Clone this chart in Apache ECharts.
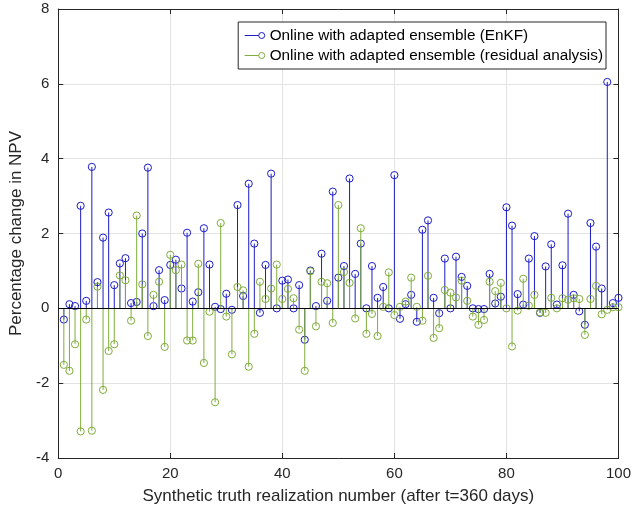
<!DOCTYPE html>
<html>
<head>
<meta charset="utf-8">
<script src="https://cdn.jsdelivr.net/npm/echarts@6/dist/echarts.min.js"></script>
<style>
  html, body { margin: 0; padding: 0; background: #fff; }
  #chart { width: 634px; height: 510px; }
</style>
</head>
<body>
<div id="chart"></div>
<script>
// Realization numbers 1..100
const realizations = [
  1,2,3,4,5,6,7,8,9,10,11,12,13,14,15,16,17,18,19,20,
  21,22,23,24,25,26,27,28,29,30,31,32,33,34,35,36,37,38,39,40,
  41,42,43,44,45,46,47,48,49,50,51,52,53,54,55,56,57,58,59,60,
  61,62,63,64,65,66,67,68,69,70,71,72,73,74,75,76,77,78,79,80,
  81,82,83,84,85,86,87,88,89,90,91,92,93,94,95,96,97,98,99,100
];

// Percentage change in NPV, online with adapted ensemble (EnKF)
const enkf = [
  -0.30, 0.11, 0.06, 2.74, 0.20, 3.78, 0.70, 1.89, 2.56, 0.62,
   1.20, 1.34, 0.14, 0.17, 2.00, 3.76, 0.06, 1.02, 0.22, 1.16,
   1.30, 0.53, 2.02, 0.18, 0.43, 2.14, 1.17, 0.04,-0.02, 0.39,
  -0.04, 2.76, 0.33, 3.33, 1.73,-0.12, 1.16, 3.60, 0.00, 0.74,
   0.77, 0.00, 0.62,-0.84, 1.01, 0.06, 1.46, 0.20, 3.12, 0.82,
   1.13, 3.47, 0.92, 1.73, 0.00, 1.13, 0.28, 0.57, 0.00, 3.56,
  -0.28, 0.11, 0.36,-0.36, 2.10, 2.35, 0.28,-0.13, 1.33, 0.00,
   1.38, 0.84, 0.60, 0.00,-0.02,-0.02, 0.92, 0.13, 0.31, 2.70,
   2.21, 0.38, 0.10, 1.33, 1.93,-0.12, 1.12, 1.71, 0.10, 1.15,
   2.53, 0.36,-0.08,-0.44, 2.28, 1.65, 0.53, 6.05, 0.14, 0.28
];

// Percentage change in NPV, online with adapted ensemble (residual analysis)
const residual = [
  -1.51,-1.67,-0.96,-3.29,-0.30,-3.27, 0.58,-2.18,-1.14,-0.96,
   0.88, 0.75,-0.33, 2.48, 0.64,-0.74, 0.36, 0.71,-1.03, 1.43,
   1.02, 1.17,-0.86,-0.86, 1.19,-1.46,-0.09,-2.51, 2.28,-0.22,
  -1.23, 0.57, 0.48,-1.56,-0.68, 0.71, 0.25, 0.53, 1.17, 0.25,
   0.52, 0.27,-0.57,-1.67, 0.99,-0.48, 0.71, 0.67,-0.39, 2.76,
   0.97, 0.68,-0.27, 2.14,-0.68,-0.15,-0.74, 0.04, 0.96,-0.18,
   0.04, 0.18, 0.82, 0.04,-0.33, 0.87,-0.79,-0.53, 0.49, 0.42,
   0.29, 0.74, 0.20,-0.22,-0.44,-0.31, 0.71, 0.46, 0.68, 0.00,
  -1.02,-0.06, 0.79, 0.07, 0.36,-0.11,-0.12, 0.28, 0.00, 0.27,
   0.23, 0.27, 0.25,-0.71, 0.25, 0.60,-0.16,-0.04, 0.03, 0.03
];

const seriesNames = [
  'Online with adapted ensemble (EnKF)',
  'Online with adapted ensemble (residual analysis)'
];

const xTicks = { min: 0, max: 100, step: 20 };
const yTicks = { min: -4, max: 8, step: 2 };

const BLUE = '#1c1cc8';
const GREEN = '#7fad3a';
const AXIS = '#262626';
const GRID = '#e3e3e3';
const FONT = '"Liberation Sans", Arial, Helvetica, sans-serif';

// Stem: vertical line from the baseline to the value, open circle at the tip
function stemRenderer(color) {
  return function (params, api) {
    const x = api.value(0);
    const v = api.value(1);
    const base = api.coord([x, 0]);
    const tip = api.coord([x, v]);
    return {
      type: 'group',
      children: [
        {
          type: 'line',
          shape: { x1: base[0], y1: base[1], x2: tip[0], y2: tip[1] },
          style: { stroke: color, lineWidth: 1 }
        },
        {
          type: 'circle',
          shape: { cx: tip[0], cy: tip[1], r: 3.6 },
          style: { fill: 'none', stroke: color, lineWidth: 1 }
        }
      ]
    };
  };
}

function pairs(values) {
  return realizations.map((r, i) => [r, values[i]]);
}

// Legend glyph: short stem segment ending in an open circle
const legendIcon = 'path://M0,4L14,4M20,4A3,3,0,1,1,14,4A3,3,0,1,1,20,4';

const axisCommon = {
  axisLine: { show: true, onZero: false, lineStyle: { color: AXIS, width: 1 } },
  axisTick: { show: true, inside: true, length: 5, lineStyle: { color: AXIS, width: 1 } },
  axisLabel: { color: AXIS, fontSize: 15, fontFamily: FONT },
  nameTextStyle: { color: AXIS, fontSize: 17, fontFamily: FONT }
};

const chart = echarts.init(document.getElementById('chart'), null, { renderer: 'canvas' });

chart.setOption({
  animation: false,
  backgroundColor: '#ffffff',
  grid: { left: 52, right: 14, top: 9, bottom: 51, containLabel: false },
  legend: {
    orient: 'vertical',
    right: 28,
    top: 22,
    padding: [6, 3, 6, 4],
    itemGap: 5,
    itemWidth: 20,
    itemHeight: 6,
    itemTextGap: 12,
    backgroundColor: '#ffffff',
    borderColor: AXIS,
    borderWidth: 1,
    borderRadius: 0,
    textStyle: { color: '#000', fontSize: 15.3, fontFamily: FONT },
    data: [
      { name: seriesNames[0], icon: legendIcon,
        itemStyle: { color: 'none', borderColor: BLUE, borderWidth: 1 } },
      { name: seriesNames[1], icon: legendIcon,
        itemStyle: { color: 'none', borderColor: GREEN, borderWidth: 1 } }
    ]
  },
  xAxis: [
    Object.assign({}, axisCommon, {
      type: 'value',
      position: 'bottom',
      min: xTicks.min, max: xTicks.max, interval: xTicks.step,
      name: 'Synthetic truth realization number (after t=360 days)',
      nameLocation: 'middle',
      nameGap: 30,
      axisLabel: Object.assign({}, axisCommon.axisLabel, { margin: 8 }),
      splitLine: { show: true, lineStyle: { color: GRID, width: 1 } }
    }),
    Object.assign({}, axisCommon, {
      type: 'value',
      position: 'top',
      min: xTicks.min, max: xTicks.max, interval: xTicks.step,
      axisLabel: { show: false },
      splitLine: { show: false }
    })
  ],
  yAxis: [
    Object.assign({}, axisCommon, {
      type: 'value',
      position: 'left',
      min: yTicks.min, max: yTicks.max, interval: yTicks.step,
      name: 'Percentage change in NPV',
      nameLocation: 'middle',
      nameGap: 26,
      axisLabel: Object.assign({}, axisCommon.axisLabel, { margin: 9 }),
      splitLine: { show: true, lineStyle: { color: GRID, width: 1 } }
    }),
    Object.assign({}, axisCommon, {
      type: 'value',
      position: 'right',
      min: yTicks.min, max: yTicks.max, interval: yTicks.step,
      axisLabel: { show: false },
      splitLine: { show: false }
    })
  ],
  series: [
    {
      name: seriesNames[0],
      type: 'custom',
      xAxisIndex: 0,
      yAxisIndex: 0,
      itemStyle: { color: BLUE },
      renderItem: stemRenderer(BLUE),
      data: pairs(enkf),
      z: 2
    },
    {
      name: seriesNames[1],
      type: 'custom',
      xAxisIndex: 0,
      yAxisIndex: 0,
      itemStyle: { color: GREEN },
      renderItem: stemRenderer(GREEN),
      data: pairs(residual),
      z: 3,
      markLine: {
        silent: true,
        symbol: 'none',
        label: { show: false },
        lineStyle: { color: '#000000', width: 1, type: 'solid' },
        data: [{ yAxis: 0 }],
        z: 4
      }
    }
  ]
});
</script>
</body>
</html>
